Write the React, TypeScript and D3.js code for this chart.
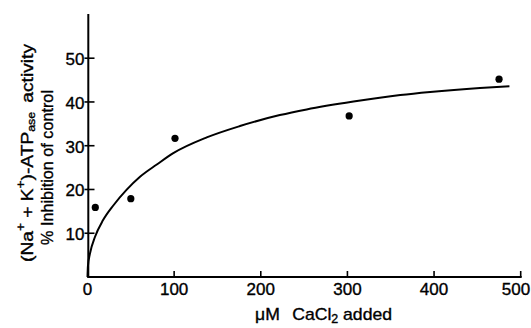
import React from "react";
import * as d3 from "d3";

const W = 531;
const H = 328;

const xTicks = [0, 100, 200, 300, 400, 500];
const yTicks = [10, 20, 30, 40, 50];

const pointX = [9, 50, 101, 302, 475];
const pointY = [15.9, 17.9, 31.7, 36.8, 45.2];

const curveX = [0, 0.5, 2.9, 8.7, 18, 30, 45, 60.6, 80, 99, 137.6, 176, 222, 253, 307, 361, 395.5, 453, 487];
const curveY = [0, 2.5, 5.4, 9.2, 13, 16.4, 19.9, 22.9, 25.7, 28.3, 31.9, 34.5, 37.0, 38.3, 40.1, 41.6, 42.3, 43.2, 43.6];

const FONT = "'Liberation Sans', Arial, Helvetica, sans-serif";

export default function App() {
  const x = d3.scaleLinear().domain([0, 500]).range([87.5, 520.7]);
  const y = d3.scaleLinear().domain([0, 50]).range([277, 58.2]);

  const line = d3
    .line<number>()
    .x((_, i) => x(curveX[i]))
    .y((_, i) => y(curveY[i]))
    .curve(d3.curveMonotoneX);

  const x0 = x(0);
  const y0 = y(0);
  const textStyle = { fill: "#000", stroke: "#000", strokeWidth: 0.35 };

  return (
    <svg
      width={W}
      height={H}
      style={{ position: "absolute", left: 0, top: 0, background: "#fff" }}
      fontFamily={FONT}
    >
      <rect x={0} y={0} width={W} height={H} fill="#fff" />
      {/* axes */}
      <line x1={x0 + 0.8} x2={x0 + 0.8} y1={y(60.1)} y2={y0 + 1} stroke="#000" strokeWidth={2} />
      <line x1={x0} x2={x(500) + 1} y1={y0} y2={y0} stroke="#000" strokeWidth={2} />
      {xTicks.filter((t) => t > 0).map((t) => (
        <line key={"xt" + t} x1={x(t)} x2={x(t)} y1={y0} y2={y0 - 6} stroke="#000" strokeWidth={1.6} />
      ))}
      {xTicks.map((t) => (
        <text key={"xl" + t} x={Math.min(x(t), 516)} y={y0 + 18} fontSize={17} textAnchor="middle" {...textStyle}>
          {t}
        </text>
      ))}
      {yTicks.map((t) => (
        <line key={"yt" + t} x1={x0 - 3} x2={x0 + 7} y1={y(t)} y2={y(t)} stroke="#000" strokeWidth={1.6} />
      ))}
      {yTicks.map((t) => (
        <text key={"yl" + t} x={x0 - 3} y={y(t) + 7} fontSize={17} textAnchor="end" {...textStyle}>
          {t}
        </text>
      ))}
      {/* curve */}
      <path d={line(curveX) || ""} fill="none" stroke="#000" strokeWidth={2} />
      {/* points */}
      {pointX.map((px, i) => (
        <circle key={"p" + i} cx={x(px)} cy={y(pointY[i])} r={3.6} fill="#000" />
      ))}
      {/* x title */}
      <text x={255} y={320} fontSize={17} textAnchor="start" textLength={137} lengthAdjust="spacingAndGlyphs" {...textStyle}>
        <tspan>μM</tspan>
        <tspan dx={12}>CaCl</tspan>
        <tspan fontSize={12} dy={3}>2</tspan>
        <tspan dy={-3}> added</tspan>
      </text>
      {/* y title */}
      <text
        transform="translate(33,262) rotate(-90)"
        fontSize={17}
        textAnchor="start"
        textLength={218}
        lengthAdjust="spacingAndGlyphs"
        {...textStyle}
      >
        <tspan>(Na</tspan>
        <tspan fontSize={12} dy={-8}>+</tspan>
        <tspan dy={8}> + K</tspan>
        <tspan fontSize={12} dy={-8}>+</tspan>
        <tspan dy={8}>)-ATP</tspan>
        <tspan fontSize={11} dy={2}>ase</tspan>
        <tspan dy={-2} dx={8}>activity</tspan>
      </text>
      <text
        transform="translate(53,245) rotate(-90)"
        fontSize={17}
        textAnchor="start"
        textLength={155}
        lengthAdjust="spacingAndGlyphs"
        {...textStyle}
      >
        % Inhibition of control
      </text>
    </svg>
  );
}
